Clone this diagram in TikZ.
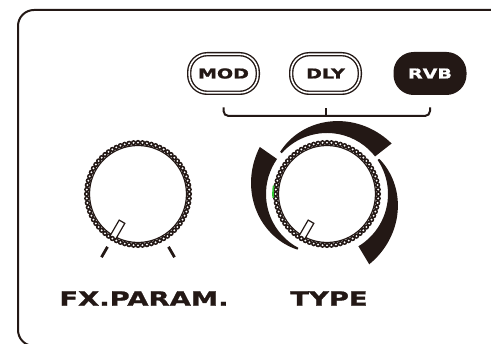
\documentclass[tikz,border=0pt]{standalone}
\usepackage{fontspec}
\newfontfamily\panelfont{DejaVu Sans}[FakeStretch=1.4, FakeBold=1.2]
\definecolor{panel}{HTML}{231815}
\definecolor{led}{HTML}{2BC52B}

\begin{document}
\begin{tikzpicture}[x=1pt, y=1pt,
    frame/.style={draw=panel, line width=2pt, rounded corners=16pt},
    button/.style={draw=panel, line width=1.4pt, double=white, double distance=1.6pt,
      rounded corners=18pt, minimum width=68.6pt, minimum height=38.6pt, inner sep=0pt,
      text=panel, font=\panelfont\bfseries\fontsize{13.6}{14}\selectfont},
    selected/.style={fill=panel, double=panel, text=white},
    bracket/.style={draw=panel, line width=2pt, rounded corners=5pt},
    knob/.style={circle, draw=panel, line width=1.2pt, minimum size=97pt, inner sep=0pt},
    bead/.style={fill=panel},
    hole/.style={fill=white},
    pointer/.style={draw=panel, fill=white, line width=1.2pt, minimum width=20pt,
      minimum height=6.5pt, inner sep=0pt},
    tick/.style={draw=panel, line width=2.8pt},
    panellabel/.style={text=panel, inner sep=0pt,
      font=\panelfont\bfseries\fontsize{19.6}{20}\selectfont}]
  \clip (0,0) rectangle (491,344);
  \draw[frame] (18,-2) rectangle (540,334);

  \node[button]           (mod) at (223.5, 270.5) {MOD};
  \node[button]           (dly) at (325.5, 270.5) {DLY};
  \node[button, selected] (rvb) at (430, 270.5)   {RVB};

  \draw[bracket] ([yshift=-14pt]mod.south) |- ([yshift=-22.5pt]rvb.south) -- ([yshift=-14pt]rvb.south);
  \draw[bracket] ([yshift=-15pt]dly.south) -- ([yshift=-22.5pt]dly.south);

  \node[knob] (fx)   at (138, 150) {};
  \node[knob] (type) at (327, 150) {};

  \foreach \k in {fx, type} {
    \path (\k.center) ++(-120:42) node[pointer, rotate=-120] (\k ptr) {};
    \foreach \a in {0,5,...,355}
      \fill[bead] (\k.center) ++(\a:51.4) circle[radius=2.7pt];
    \foreach \a in {0,5,...,355}
      \fill[hole] (\k.center) ++(\a:51.4) circle[radius=1.05pt];
  }

  \draw[tick] (fx.center) ++(-120:61) -- ++(-120:12);
  \draw[tick] (fx.center) ++(-60:61) -- ++(-60:12);

  \foreach \thin/\thick in {242/145, 138/38, 34/-59}
    \fill[panel, shift={(type.center)}]
      plot[domain=\thick:\thin, samples=40] (\x:{63+19*(\thin-\x)/(\thin-\thick)})
      -- (\thin:61) arc[start angle=\thin, end angle=\thick, radius=61] -- cycle;

  \draw[led, line width=1.6pt] (type.center) ++(184:54) arc[start angle=184, end angle=171, radius=54];

  \node[panellabel] (fxname)   at (144, 45.5) {FX.PARAM.};
  \node[panellabel] (typename) at (329, 45.5) {TYPE};
\end{tikzpicture}
\end{document}
